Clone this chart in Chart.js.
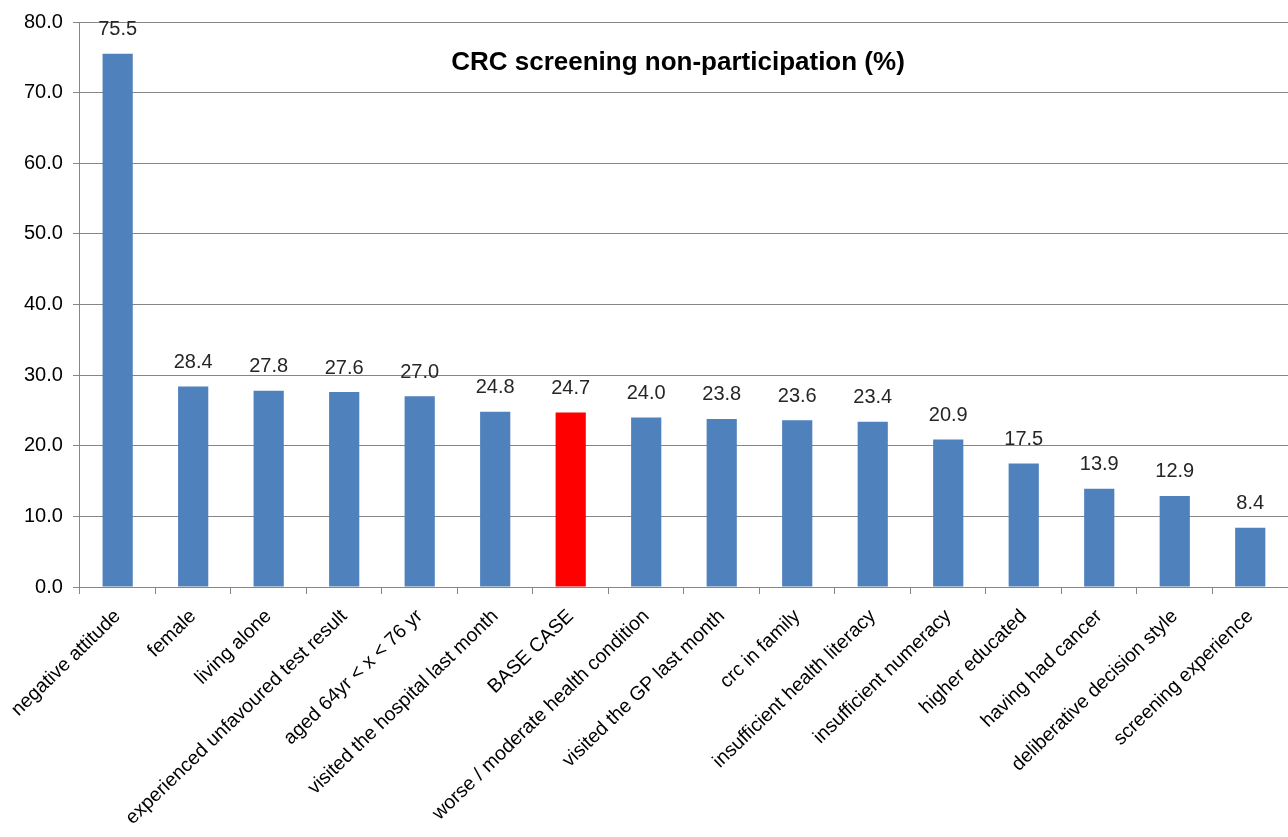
<!DOCTYPE html>
<html>
<head>
<meta charset="utf-8">
<script src="https://cdn.jsdelivr.net/npm/chart.js@4"></script>
<style>
  html, body { margin: 0; padding: 0; background: #fff; }
  #wrap { width: 1288px; height: 837px; }
</style>
</head>
<body>
<div id="wrap"><canvas id="myChart"></canvas></div>
<script>
'use strict';

var categories = ['negative attitude', 'female', 'living alone', 'experienced unfavoured test result',
  'aged 64yr < x < 76 yr', 'visited the hospital last month', 'BASE CASE', 'worse / moderate health condition',
  'visited the GP last month', 'crc in family', 'insufficient health literacy', 'insufficient numeracy',
  'higher educated', 'having had cancer', 'deliberative decision style', 'screening experience'];
var values = [75.5, 28.4, 27.8, 27.6, 27.0, 24.8, 24.7, 24.0, 23.8, 23.6, 23.4, 20.9, 17.5, 13.9, 12.9, 8.4];
var yTicks = [0, 10, 20, 30, 40, 50, 60, 70, 80];
var baseCase = 'BASE CASE';
var chartTitle = 'CRC screening non-participation (%)';

var FONT = '"Liberation Sans", Arial, sans-serif';
var barColors = categories.map(function(c) { return c === baseCase ? '#FF0000' : '#4F81BD'; });

var labelPlugin = {
  id: 'barLabels',
  afterDatasetsDraw: function(chart) {
    var ctx = chart.ctx;
    var meta = chart.getDatasetMeta(0);
    ctx.save();
    ctx.font = '20px ' + FONT;
    ctx.fillStyle = '#262626';
    ctx.textAlign = 'center';
    ctx.textBaseline = 'bottom';
    meta.data.forEach(function(bar, i) {
      ctx.fillText(values[i].toFixed(1), bar.x, bar.y - 14);
    });
    // title sits inside the plot area
    ctx.font = 'bold 26px ' + FONT;
    ctx.fillStyle = '#000';
    ctx.textBaseline = 'middle';
    ctx.fillText(chartTitle, 678, 63);
    ctx.restore();
  }
};

var ctx = document.getElementById('myChart').getContext('2d');
var chart = new Chart(ctx, {
  type: 'bar',
  data: {
    labels: categories,
    datasets: [{
      data: values,
      backgroundColor: barColors,
      barPercentage: 0.4,
      categoryPercentage: 1.0
    }]
  },
  options: {
    responsive: true,
    maintainAspectRatio: false,
    animation: false,
    layout: { padding: { top: 7, right: 0, left: 14, bottom: 0 } },
    plugins: {
      legend: { display: false },
      tooltip: { enabled: false }
    },
    scales: {
      x: {
        afterFit: function(axis) { axis.height = 250; },
        grid: { offset: true, drawOnChartArea: false, drawTicks: true, tickLength: 7, color: '#868686' },
        border: { color: '#868686' },
        ticks: {
          color: '#000',
          font: { family: FONT, size: 19.5 },
          padding: 11,
          minRotation: 44,
          maxRotation: 44,
          autoSkip: false
        }
      },
      y: {
        min: 0,
        max: 80,
        afterBuildTicks: function(axis) {
          axis.ticks = yTicks.map(function(v) { return { value: v }; });
        },
        grid: { color: '#868686', tickLength: 7 },
        border: { color: '#868686' },
        ticks: {
          color: '#000',
          font: { family: FONT, size: 20 },
          padding: 10,
          callback: function(v) { return Number(v).toFixed(1); }
        }
      }
    }
  },
  plugins: [labelPlugin]
});
</script>
</body>
</html>
